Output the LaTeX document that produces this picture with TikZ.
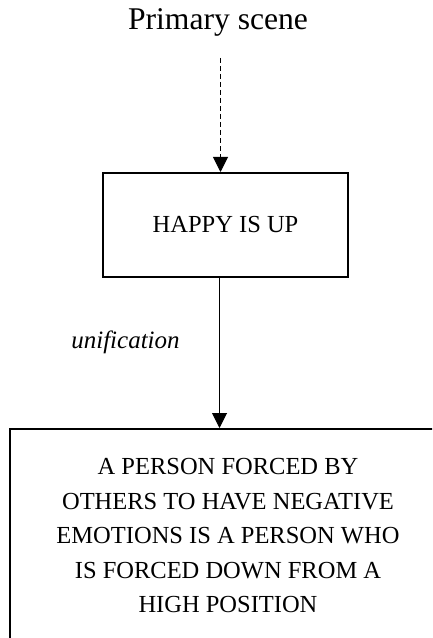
\documentclass[tikz,border=0pt]{standalone}
\usepackage{fontspec}
\setmainfont{Liberation Serif}
\usetikzlibrary{arrows.meta}
\begin{document}
\begin{tikzpicture}[x=1bp,y=-1bp,
  boxstyle/.style={draw, line width=2bp, align=center, inner sep=0pt},
  arr/.style={line width=1bp, -{Triangle[width=15bp,length=15bp]}},
]
\useasboundingbox (0,0) rectangle (432,638);
\clip (0,0) rectangle (432,638);
\node[anchor=base, font=\fontsize{31.6bp}{36bp}\selectfont] (title) at (218,30) {Primary scene};
\node[boxstyle, minimum width=245bp, minimum height=104bp, font=\fontsize{24.5bp}{30bp}\selectfont] (happy) at (225.5,225) {HAPPY IS UP};
\node[boxstyle, minimum width=436bp, minimum height=214bp, font=\fontsize{24.5bp}{34.5bp}\selectfont] (meta) at (228,536)
  {A PERSON FORCED BY\\OTHERS TO HAVE NEGATIVE\\EMOTIONS IS A PERSON WHO\\IS FORCED DOWN FROM A\\HIGH POSITION};
\coordinate (dstart) at (220.5,58);
\coordinate (sx) at (219.5,300);
\draw[arr, dash pattern=on 5bp off 3bp] (dstart) -- (dstart |- happy.north);
\draw[arr] (happy.south -| sx) -- (meta.north -| sx);
\node[anchor=base, font=\itshape\fontsize{25bp}{30bp}\selectfont] (unif) at (125.5,348) {unification};
\end{tikzpicture}
\end{document}
